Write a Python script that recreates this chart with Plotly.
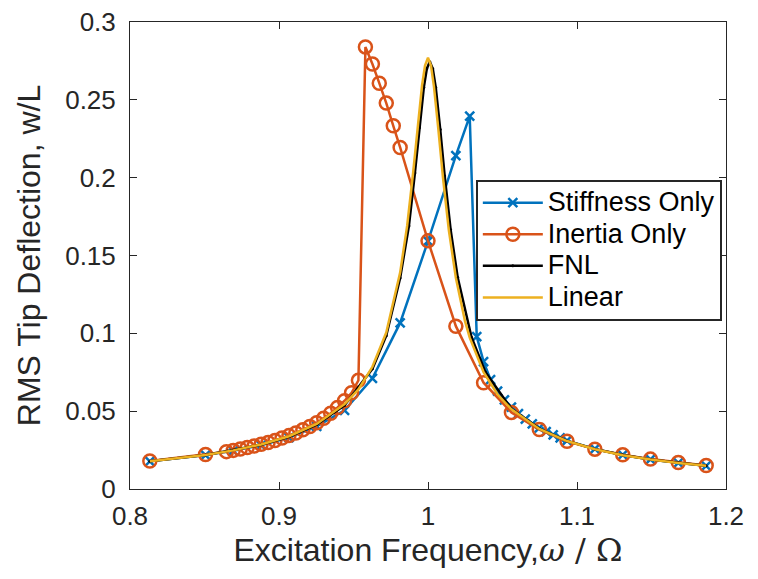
import plotly.graph_objects as go

# ---- data ----
stiff_x = [0.8133, 0.8507, 0.8693, 0.8880, 0.9067, 0.9253, 0.9440, 0.9627, 0.9813, 1.0000,
           1.0187, 1.0280, 1.0327, 1.0373, 1.0420, 1.0467, 1.0513, 1.0560, 1.0607, 1.0653,
           1.0700, 1.0747, 1.0793, 1.0840, 1.0887, 1.0933, 1.1120, 1.1307, 1.1493, 1.1680, 1.1867]
stiff_y = [0.0178, 0.0218, 0.0245, 0.0281, 0.0330, 0.0402, 0.0505, 0.0711, 0.1067, 0.1592,
           0.2142, 0.2395, 0.0979, 0.0818, 0.0702, 0.0628, 0.0572, 0.0526, 0.0484, 0.0449,
           0.0418, 0.0392, 0.0368, 0.0347, 0.0328, 0.0311, 0.0257, 0.0219, 0.0190, 0.0168, 0.0149]

inert_x = [0.8133, 0.8507, 0.8647, 0.8693, 0.8740, 0.8787, 0.8833, 0.8880, 0.8927, 0.8973,
           0.9020, 0.9067, 0.9113, 0.9160, 0.9207, 0.9253, 0.9300, 0.9347, 0.9393, 0.9440,
           0.9487, 0.9533, 0.9580, 0.9627, 0.9673, 0.9720, 0.9767, 0.9813, 1.0000, 1.0187,
           1.0373, 1.0560, 1.0747, 1.0933, 1.1120, 1.1307, 1.1493, 1.1680, 1.1867]
inert_y = [0.0180, 0.0222, 0.0240, 0.0248, 0.0257, 0.0266, 0.0276, 0.0287, 0.0299, 0.0312,
           0.0327, 0.0343, 0.0360, 0.0380, 0.0402, 0.0426, 0.0454, 0.0487, 0.0524, 0.0567,
           0.0618, 0.0698, 0.2840, 0.2730, 0.2607, 0.2479, 0.2333, 0.2194, 0.1594, 0.1046,
           0.0683, 0.0492, 0.0382, 0.0307, 0.0256, 0.0220, 0.0192, 0.0170, 0.0151]

fnl_x = [0.8133, 0.8507, 0.8880, 0.9067, 0.9253, 0.9440, 0.9627, 0.9720, 0.9813, 0.9872,
         0.9912, 0.9942, 0.9972, 0.9992, 1.0012, 1.0032, 1.0052, 1.0082, 1.0112, 1.0152,
         1.0199, 1.0292, 1.0385, 1.0560, 1.0747, 1.0933, 1.1120, 1.1307, 1.1493, 1.1680, 1.1867]
fnl_y = [0.0178, 0.0218, 0.0284, 0.0336, 0.0414, 0.0538, 0.0772, 0.0985, 0.1355, 0.1690,
         0.2030, 0.2320, 0.2580, 0.2700, 0.2745, 0.2700, 0.2580, 0.2310, 0.2010, 0.1665,
         0.1360, 0.0975, 0.0752, 0.0515, 0.0388, 0.0309, 0.0256, 0.0218, 0.0190, 0.0168, 0.0149]

lin_x = [0.8133, 0.8320, 0.8507, 0.8693, 0.8880, 0.9067, 0.9253, 0.9440, 0.9533, 0.9627,
         0.9720, 0.9813, 0.9860, 0.9900, 0.9930, 0.9960, 0.9980, 1.0000, 1.0020, 1.0040,
         1.0070, 1.0100, 1.0140, 1.0187, 1.0248, 1.0280, 1.0373, 1.0467, 1.0560, 1.0747,
         1.0933, 1.1120, 1.1307, 1.1493, 1.1680, 1.1867]
lin_y = [0.0179, 0.0197, 0.0219, 0.0248, 0.0286, 0.0339, 0.0418, 0.0545, 0.0640, 0.0785,
         0.1005, 0.1390, 0.1690, 0.2030, 0.2320, 0.2592, 0.2720, 0.2770, 0.2720, 0.2585,
         0.2305, 0.2005, 0.1662, 0.1357, 0.1080, 0.0972, 0.0750, 0.0607, 0.0512, 0.0386,
         0.0308, 0.0255, 0.0217, 0.0189, 0.0167, 0.0149]

series_names = ["Stiffness Only", "Inertia Only", "FNL", "Linear"]

x_ticks = [0.8, 0.9, 1.0, 1.1, 1.2]
x_tick_labels = ["0.8", "0.9", "1", "1.1", "1.2"]
y_ticks = [0, 0.05, 0.1, 0.15, 0.2, 0.25, 0.3]
y_tick_labels = ["0", "0.05", "0.1", "0.15", "0.2", "0.25", "0.3"]

BLUE = "#0072BD"
ORANGE = "#D95319"
YELLOW = "#EDB120"
AX = "#262626"
FONT = "Liberation Sans, Arial, Helvetica, sans-serif"


def leg(name):
    return '<span style="font-size:27px">' + name + '</span>'


fig = go.Figure()
fig.add_trace(go.Scatter(
    x=stiff_x, y=stiff_y, name=leg(series_names[0]), mode="lines+markers",
    line=dict(color=BLUE, width=2.5),
    marker=dict(symbol="x-thin-open", size=9, line=dict(color=BLUE, width=2.5))))
fig.add_trace(go.Scatter(
    x=inert_x, y=inert_y, name=leg(series_names[1]), mode="lines+markers",
    line=dict(color=ORANGE, width=2.5),
    marker=dict(symbol="circle-open", size=13, color=ORANGE, line=dict(color=ORANGE, width=2.5))))
fig.add_trace(go.Scatter(
    x=fnl_x, y=fnl_y, name=leg(series_names[2]), mode="lines+markers",
    line=dict(color="black", width=2.5),
    marker=dict(symbol="circle", size=3, color="black")))
fig.add_trace(go.Scatter(
    x=lin_x, y=lin_y, name=leg(series_names[3]), mode="lines",
    line=dict(color=YELLOW, width=2.5)))

axis_common = dict(
    showline=True, linecolor=AX, linewidth=1, mirror="ticks",
    ticks="inside", ticklen=7, tickcolor=AX, tickwidth=1,
    showgrid=False, zeroline=False, automargin=False,
    ticklabeloverflow="allow",
    tickfont=dict(family=FONT, size=26, color=AX),
)

# page body adds an 8px offset, so the figure is 8px smaller than the window
fig.update_layout(
    width=750, height=571,
    margin=dict(l=122, r=32, t=14, b=90),
    paper_bgcolor="white", plot_bgcolor="white",
    font=dict(family=FONT, color=AX),
    xaxis=dict(range=[0.8, 1.2], tickvals=x_ticks, ticktext=x_tick_labels,
               ticklabelstandoff=4,
               title=dict(text="Excitation Frequency,<span style=\"font-family:'DejaVu Serif'\"><i>ω</i> / Ω</span>",
                          font=dict(family=FONT, size=32, color=AX), standoff=2),
               **axis_common),
    yaxis=dict(range=[0, 0.3], tickvals=y_ticks, ticktext=y_tick_labels,
               ticklabelstandoff=8,
               title=dict(text="RMS Tip Deflection, w/L",
                          font=dict(family=FONT, size=32, color=AX), standoff=14),
               **axis_common),
    legend=dict(x=0.993, xanchor="right", y=0.662, yanchor="top",
                bgcolor="white", bordercolor=AX, borderwidth=2,
                font=dict(family=FONT, size=22, color="black"),
                itemwidth=60, tracegroupgap=0),
    showlegend=True,
)

fig.write_html("out.html")
